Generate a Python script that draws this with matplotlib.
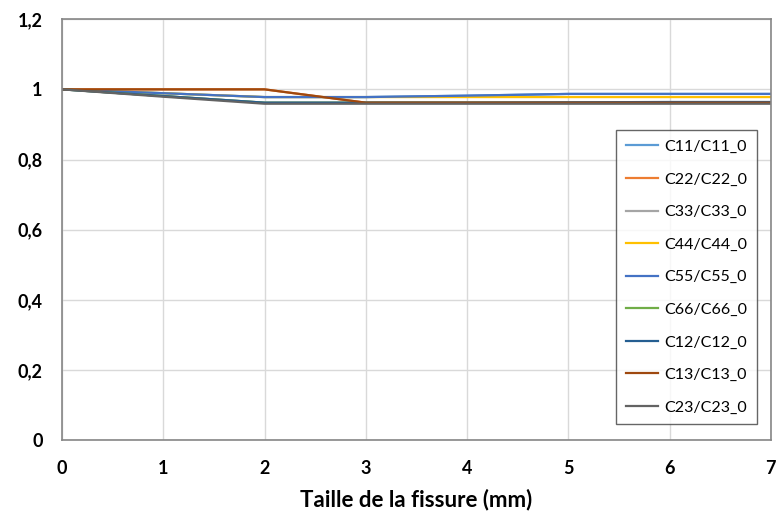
import numpy as np
import matplotlib.pyplot as plt

plt.rcParams['font.family'] = ['Lato', 'DejaVu Sans']

taille = [0, 1, 2, 3, 4, 5, 6, 7]

c11 = [1, 0.989, 0.978, 0.978, 0.982, 0.987, 0.987, 0.987]
c22 = [1, 1, 1, 0.962, 0.962, 0.962, 0.962, 0.962]
c33 = [1, 0.981, 0.962, 0.962, 0.962, 0.962, 0.962, 0.962]
c44 = [1, 0.989, 0.978, 0.978, 0.978, 0.978, 0.978, 0.978]
c55 = [1, 0.989, 0.978, 0.978, 0.982, 0.987, 0.987, 0.987]
c66 = [1, 0.981, 0.962, 0.962, 0.962, 0.962, 0.962, 0.962]
c12 = [1, 0.981, 0.962, 0.962, 0.962, 0.963, 0.964, 0.964]
c13 = [1, 1, 1, 0.962, 0.962, 0.962, 0.962, 0.962]
c23 = [1, 0.979, 0.959, 0.959, 0.959, 0.959, 0.959, 0.959]

series = [
    ('C11/C11_0', c11, '#5B9BD5'),
    ('C22/C22_0', c22, '#ED7D31'),
    ('C33/C33_0', c33, '#A5A5A5'),
    ('C44/C44_0', c44, '#FFC000'),
    ('C55/C55_0', c55, '#4472C4'),
    ('C66/C66_0', c66, '#70AD47'),
    ('C12/C12_0', c12, '#255E91'),
    ('C13/C13_0', c13, '#9E480E'),
    ('C23/C23_0', c23, '#636363'),
]

fig = plt.figure(figsize=(7.77, 5.19), dpi=100)
ax = fig.add_axes([0.0798, 0.152, 0.9122, 0.811])

for lab, vals, col in series:
    ax.plot(taille, vals, color=col, lw=1.6, label=lab)

ax.set_xlim(0, 7)
ax.set_ylim(0, 1.2)
ax.set_xticks(range(8))
yt = [0, 0.2, 0.4, 0.6, 0.8, 1, 1.2]
ax.set_yticks(yt)
ax.set_yticklabels(['0', '0,2', '0,4', '0,6', '0,8', '1', '1,2'])
ax.tick_params(length=0, labelsize=13, pad=14)
for t in ax.get_xticklabels() + ax.get_yticklabels():
    t.set_fontweight('bold')
ax.grid(color='#D9D9D9', lw=1)
ax.set_axisbelow(True)
for s in ax.spines.values():
    s.set_color('#868686')
    s.set_linewidth(1.2)

ax.set_xlabel('Taille de la fissure (mm)', fontsize=16, fontweight='bold', labelpad=9)

leg = ax.legend(loc='upper right', bbox_to_anchor=(0.98, 0.736), fontsize=11.5,
                frameon=True, fancybox=False, edgecolor='#404040',
                labelspacing=1.15, handlelength=2.0, handletextpad=0.4,
                borderpad=0.6, borderaxespad=0)
leg.get_frame().set_linewidth(1.0)

fig.savefig('out.png', dpi=100)
